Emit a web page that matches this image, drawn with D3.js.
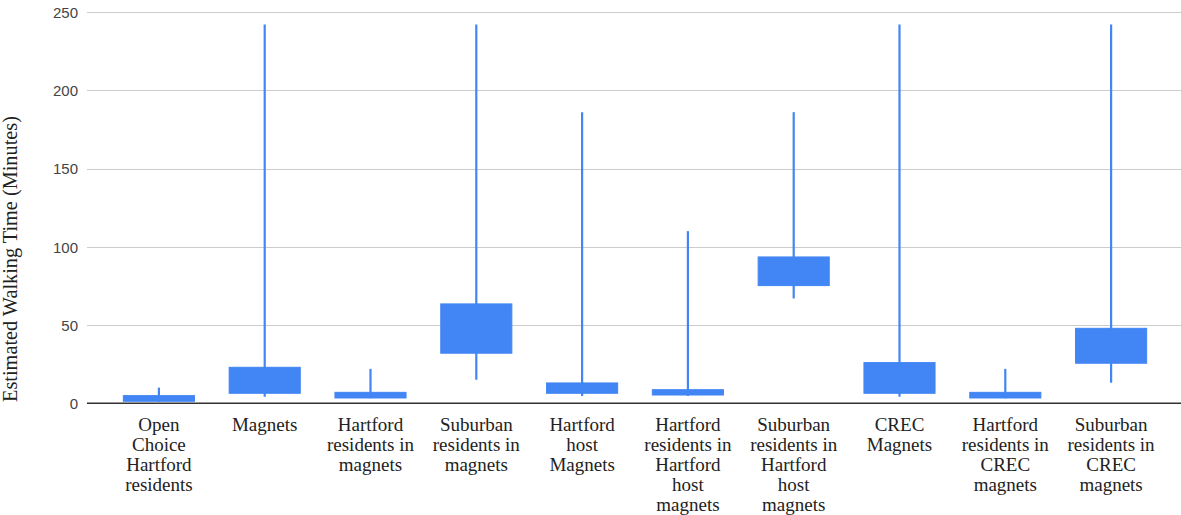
<!DOCTYPE html>
<html>
<head>
<meta charset="utf-8">
<script src="https://cdn.jsdelivr.net/npm/d3@7"></script>
<style>
  html, body { margin: 0; padding: 0; background: #fff; }
  svg { display: block; }
</style>
</head>
<body>
<svg id="chart" width="1181" height="515"></svg>
<script>
// ---- Data ----
const categories = [
  "Open Choice Hartford residents",
  "Magnets",
  "Hartford residents in magnets",
  "Suburban residents in magnets",
  "Hartford host Magnets",
  "Hartford residents in Hartford host magnets",
  "Suburban residents in Hartford host magnets",
  "CREC Magnets",
  "Hartford residents in CREC magnets",
  "Suburban residents in CREC magnets"
];
const labelLines = [
  ["Open", "Choice", "Hartford", "residents"],
  ["Magnets"],
  ["Hartford", "residents in", "magnets"],
  ["Suburban", "residents in", "magnets"],
  ["Hartford", "host", "Magnets"],
  ["Hartford", "residents in", "Hartford", "host", "magnets"],
  ["Suburban", "residents in", "Hartford", "host", "magnets"],
  ["CREC", "Magnets"],
  ["Hartford", "residents in", "CREC", "magnets"],
  ["Suburban", "residents in", "CREC", "magnets"]
];
const lowValues   = [1,   4.2, 3.2, 15,   4.7, 4.7, 67,   4.2, 3.2, 13.2];
const openValues  = [1.3, 6.4, 3.4, 32,   6.4, 5.3, 75.2, 6.4, 3.4, 25.6];
const closeValues = [4.9, 23,  7,   63.5, 13,  8.7, 93.5, 26,  7,   47.9];
const highValues  = [10,  242, 22,  242,  186, 110, 186,  242, 22,  242];
const yTicks = [0, 50, 100, 150, 200, 250];
const yTitle = "Estimated Walking Time (Minutes)";

// ---- Layout ----
const svg = d3.select("#chart");
const gridLeft = 87, gridRight = 1181;
const color = "#4285F4";

const x = d3.scaleBand().domain(categories).range([106, 1164]).padding(0);
const y = d3.scaleLinear().domain([0, 250]).range([403.3, 12]);

// gridlines
svg.append("g").selectAll("line")
  .data(yTicks.filter(t => t !== 0))
  .join("line")
  .attr("x1", gridLeft).attr("x2", gridRight)
  .attr("y1", d => Math.round(y(d)) + 0.5).attr("y2", d => Math.round(y(d)) + 0.5)
  .attr("stroke", "#cccccc").attr("stroke-width", 1);

// y axis labels
const yAxis = d3.axisLeft(y).tickValues(yTicks).tickSize(0).tickPadding(0);
const yg = svg.append("g").attr("transform", "translate(78,0)").call(yAxis);
yg.select(".domain").remove();
yg.selectAll("text")
  .attr("font-family", "Arial, 'Liberation Sans', sans-serif")
  .attr("font-size", 15)
  .attr("fill", "#444")
  .attr("dy", "0.35em");

// y title
svg.append("text")
  .attr("transform", "translate(16.5,259) rotate(-90)")
  .attr("text-anchor", "middle")
  .attr("font-family", "'Times New Roman', 'Liberation Serif', serif")
  .attr("font-size", 20.3)
  .attr("fill", "#222")
  .text(yTitle);

// candles
const data = categories.map((c, i) => ({
  c, low: lowValues[i], open: openValues[i], close: closeValues[i], high: highValues[i]
}));
const boxW = x.bandwidth() * 0.672;
const g = svg.append("g");
g.selectAll("line.wick")
  .data(data).join("line")
  .attr("class", "wick")
  .attr("x1", d => x(d.c) + x.bandwidth() / 2)
  .attr("x2", d => x(d.c) + x.bandwidth() / 2)
  .attr("y1", d => y(d.low)).attr("y2", d => y(d.high))
  .attr("stroke", color).attr("stroke-width", 2.2);
g.selectAll("rect.box")
  .data(data).join("rect")
  .attr("class", "box")
  .attr("x", d => x(d.c) + (x.bandwidth() - boxW) / 2)
  .attr("width", boxW)
  .attr("y", d => y(Math.max(d.open, d.close)))
  .attr("height", d => Math.abs(y(d.open) - y(d.close)))
  .attr("fill", color)
  .attr("stroke", color).attr("stroke-width", 1);

// baseline axis
svg.append("line")
  .attr("x1", gridLeft).attr("x2", gridRight)
  .attr("y1", y(0)).attr("y2", y(0))
  .attr("stroke", "#333").attr("stroke-width", 1.6);

// x labels
const xg = svg.append("g");
const lab = xg.selectAll("text")
  .data(categories).join("text")
  .attr("x", d => x(d) + x.bandwidth() / 2)
  .attr("y", 430.5)
  .attr("text-anchor", "middle")
  .attr("font-family", "'Times New Roman', 'Liberation Serif', serif")
  .attr("font-size", 19)
  .attr("fill", "#222");
lab.each(function(d, i) {
  d3.select(this).selectAll("tspan")
    .data(labelLines[i]).join("tspan")
    .attr("x", x(d) + x.bandwidth() / 2)
    .attr("dy", (t, j) => j === 0 ? 0 : 20)
    .text(t => t);
});
</script>
</body>
</html>
